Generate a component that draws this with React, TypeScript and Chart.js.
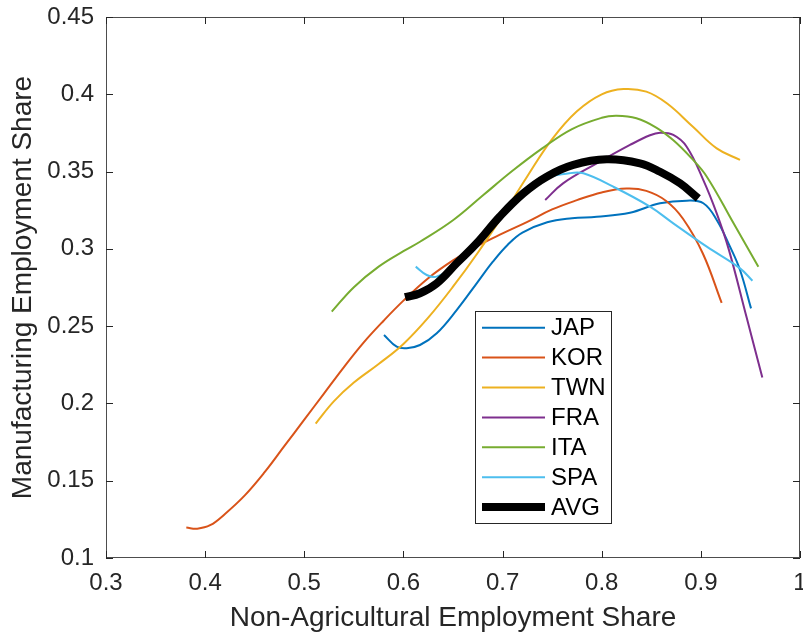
import React, { useEffect, useRef } from "react";
import { Chart, registerables } from "chart.js";

Chart.register(...registerables);

// ---- data ----
const JAP_X = [0.5804, 0.5932, 0.6033, 0.6167, 0.6336, 0.6537, 0.6739, 0.69, 0.705, 0.72, 0.745, 0.77, 0.795, 0.8285, 0.8588, 0.8857, 0.9025, 0.916, 0.9294, 0.9395, 0.9506];
const JAP_Y = [0.2443, 0.2367, 0.2357, 0.2378, 0.2454, 0.2604, 0.2777, 0.2915, 0.3025, 0.3105, 0.3172, 0.3198, 0.3208, 0.3234, 0.3295, 0.3312, 0.3295, 0.3187, 0.3014, 0.2863, 0.2615];

const KOR_X = [0.381, 0.392, 0.405, 0.42, 0.44, 0.46, 0.48, 0.5, 0.52, 0.54, 0.56, 0.58, 0.6, 0.625, 0.65, 0.675, 0.7, 0.725, 0.75, 0.775, 0.8, 0.825, 0.845, 0.865, 0.882, 0.902, 0.921];
const KOR_Y = [0.1197, 0.119, 0.1212, 0.1285, 0.1405, 0.1555, 0.1725, 0.1895, 0.2065, 0.2235, 0.2395, 0.2535, 0.2665, 0.281, 0.2925, 0.302, 0.31, 0.3175, 0.3255, 0.3315, 0.3365, 0.339, 0.3375, 0.331, 0.3195, 0.297, 0.265];

const TWN_X = [0.5115, 0.53, 0.55, 0.575, 0.6, 0.625, 0.65, 0.675, 0.7, 0.725, 0.75, 0.775, 0.8, 0.822, 0.845, 0.866, 0.892, 0.916, 0.9395];
const TWN_Y = [0.187, 0.2015, 0.2135, 0.2255, 0.2385, 0.2555, 0.2755, 0.2975, 0.3215, 0.347, 0.371, 0.389, 0.4, 0.4034, 0.4017, 0.394, 0.379, 0.365, 0.3575];

const FRA_X = [0.743, 0.761, 0.795, 0.8285, 0.8487, 0.8588, 0.8722, 0.8857, 0.9025, 0.916, 0.928, 0.946, 0.962];
const FRA_Y = [0.3316, 0.3424, 0.3553, 0.3672, 0.3735, 0.3751, 0.3737, 0.3661, 0.3445, 0.323, 0.3, 0.256, 0.2167];

const ITA_X = [0.5277, 0.55, 0.575, 0.6, 0.6167, 0.65, 0.68, 0.71, 0.74, 0.77, 0.8, 0.815, 0.835, 0.855, 0.872, 0.89, 0.906, 0.933, 0.958];
const ITA_Y = [0.2594, 0.2752, 0.2885, 0.2985, 0.3046, 0.3185, 0.3345, 0.3505, 0.365, 0.3775, 0.3848, 0.3861, 0.3845, 0.3785, 0.3704, 0.359, 0.3467, 0.3165, 0.2885];

const SPA_X = [0.6124, 0.6235, 0.6336, 0.655, 0.7, 0.74, 0.7674, 0.7815, 0.8117, 0.8487, 0.8722, 0.906, 0.9395, 0.952];
const SPA_Y = [0.2885, 0.2831, 0.282, 0.2905, 0.3225, 0.3445, 0.3489, 0.3489, 0.3402, 0.3273, 0.3165, 0.3014, 0.2874, 0.2794];

const AVG_X = [0.6016, 0.6167, 0.6336, 0.6537, 0.6739, 0.697, 0.7209, 0.7445, 0.7714, 0.805, 0.8386, 0.8588, 0.879, 0.8974];
const AVG_Y = [0.2687, 0.2713, 0.2777, 0.2907, 0.3036, 0.3208, 0.3359, 0.3467, 0.3543, 0.3579, 0.3553, 0.3499, 0.3424, 0.3327];

const SERIES_LABELS = ["JAP", "KOR", "TWN", "FRA", "ITA", "SPA", "AVG"];
const SERIES_COLORS = ["#0072BD", "#D95319", "#EDB120", "#7E2F8E", "#77AC30", "#4DBEEE", "#000000"];
const SERIES_X = [JAP_X, KOR_X, TWN_X, FRA_X, ITA_X, SPA_X, AVG_X];
const SERIES_Y = [JAP_Y, KOR_Y, TWN_Y, FRA_Y, ITA_Y, SPA_Y, AVG_Y];

const X_MIN = 0.3, X_MAX = 1, X_STEP = 0.1;
const Y_MIN = 0.1, Y_MAX = 0.45, Y_STEP = 0.05;
const X_TITLE = "Non-Agricultural Employment Share";
const Y_TITLE = "Manufacturing Employment Share";

const FONT = "'Liberation Sans', Arial, Helvetica, sans-serif";
const AXIS_COLOR = "#262626";

const fmt = (v: number) => Number(v).toFixed(2).replace(/0+$/, "").replace(/\.$/, "");

const boxPlugin = {
  id: "matlabBox",
  afterDatasetsDraw(chart: any) {
    const { ctx, chartArea: a, scales } = chart;
    ctx.save();
    ctx.strokeStyle = "#4d4d4d";
    ctx.lineWidth = 1;
    ctx.strokeRect(a.left + 0.5, a.top + 0.5, a.right - a.left - 1, a.bottom - a.top - 1);
    ctx.strokeStyle = AXIS_COLOR;
    const L = 7;
    scales.x.ticks.forEach((t: any) => {
      const px = Math.round(scales.x.getPixelForValue(t.value)) + 0.5;
      ctx.beginPath();
      ctx.moveTo(px, a.bottom); ctx.lineTo(px, a.bottom - L);
      ctx.moveTo(px, a.top); ctx.lineTo(px, a.top + L);
      ctx.stroke();
    });
    scales.y.ticks.forEach((t: any) => {
      const py = Math.round(scales.y.getPixelForValue(t.value)) + 0.5;
      ctx.beginPath();
      ctx.moveTo(a.left, py); ctx.lineTo(a.left + L, py);
      ctx.moveTo(a.right, py); ctx.lineTo(a.right - L, py);
      ctx.stroke();
    });
    ctx.restore();
  },
  afterDraw(chart: any) {
    // legend box drawn inside the axes, MATLAB style
    const { ctx } = chart;
    const ds = chart.data.datasets;
    const bx = 475.5, by = 311.5, bw = 136, bh = 212;
    const rowH = 29.9, firstRow = 327.7;
    ctx.save();
    ctx.fillStyle = "#ffffff";
    ctx.fillRect(bx, by, bw, bh);
    ctx.strokeStyle = AXIS_COLOR;
    ctx.lineWidth = 1;
    ctx.strokeRect(bx, by, bw, bh);
    ctx.font = `24px ${FONT}`;
    ctx.textBaseline = "middle";
    ctx.textAlign = "left";
    ds.forEach((d: any, i: number) => {
      const y = firstRow + i * rowH;
      ctx.strokeStyle = d.borderColor;
      ctx.lineWidth = d.borderWidth;
      ctx.lineCap = "butt";
      ctx.beginPath();
      ctx.moveTo(482, y);
      ctx.lineTo(545, y);
      ctx.stroke();
      ctx.fillStyle = "#000000";
      ctx.fillText(d.label, 551, y + 1);
    });
    ctx.restore();
  },
};

export default function App() {
  const ref = useRef<HTMLCanvasElement | null>(null);
  useEffect(() => {
    document.body.style.margin = "0";
    const canvas = ref.current;
    if (!canvas) return;
    const datasets = SERIES_LABELS.map((label, i) => ({
      label,
      data: SERIES_X[i].map((x, j) => ({ x, y: SERIES_Y[i][j] })),
      borderColor: SERIES_COLORS[i],
      backgroundColor: SERIES_COLORS[i],
      borderWidth: label === "AVG" ? 8 : 2,
      pointRadius: 0,
      tension: 0.4,
      fill: false,
      order: SERIES_LABELS.length - 1 - i,
      borderCapStyle: "butt" as const,
    }));
    const chart = new Chart(canvas, {
      type: "line",
      data: { datasets },
      options: {
        responsive: false,
        animation: false,
        events: [],
        layout: { padding: { top: 17, right: 3, left: 0, bottom: 0 } },
        plugins: { legend: { display: false }, tooltip: { enabled: false } },
        scales: {
          x: {
            type: "linear",
            min: X_MIN,
            max: X_MAX,
            grid: { display: false, drawTicks: false },
            border: { display: false },
            ticks: {
              stepSize: X_STEP,
              autoSkip: false,
              maxRotation: 0,
              padding: 11,
              color: AXIS_COLOR,
              font: { family: FONT, size: 24 },
              callback: (v: any) => fmt(v),
            },
            title: {
              display: true,
              text: X_TITLE,
              color: AXIS_COLOR,
              font: { family: FONT, size: 28 },
              padding: { top: 0, bottom: 2 },
            },
            afterFit: (s: any) => {
              s.height = 79;
              s.paddingLeft = 0;
              s.paddingRight = 0;
            },
          },
          y: {
            type: "linear",
            min: Y_MIN,
            max: Y_MAX,
            grid: { display: false, drawTicks: false },
            border: { display: false },
            ticks: {
              stepSize: Y_STEP,
              autoSkip: false,
              padding: 12,
              color: AXIS_COLOR,
              font: { family: FONT, size: 24 },
              callback: (v: any) => fmt(v),
            },
            title: {
              display: true,
              text: Y_TITLE,
              color: AXIS_COLOR,
              font: { family: FONT, size: 28 },
              padding: { top: 6, bottom: 0 },
            },
            afterFit: (s: any) => {
              s.width = 106;
              s.paddingTop = 0;
              s.paddingBottom = 0;
            },
          },
        },
      },
      plugins: [boxPlugin],
    });
    return () => chart.destroy();
  }, []);
  return (
    <div style={{ width: 803, height: 637 }}>
      <canvas ref={ref} width={803} height={637} style={{ display: "block" }} />
    </div>
  );
}
